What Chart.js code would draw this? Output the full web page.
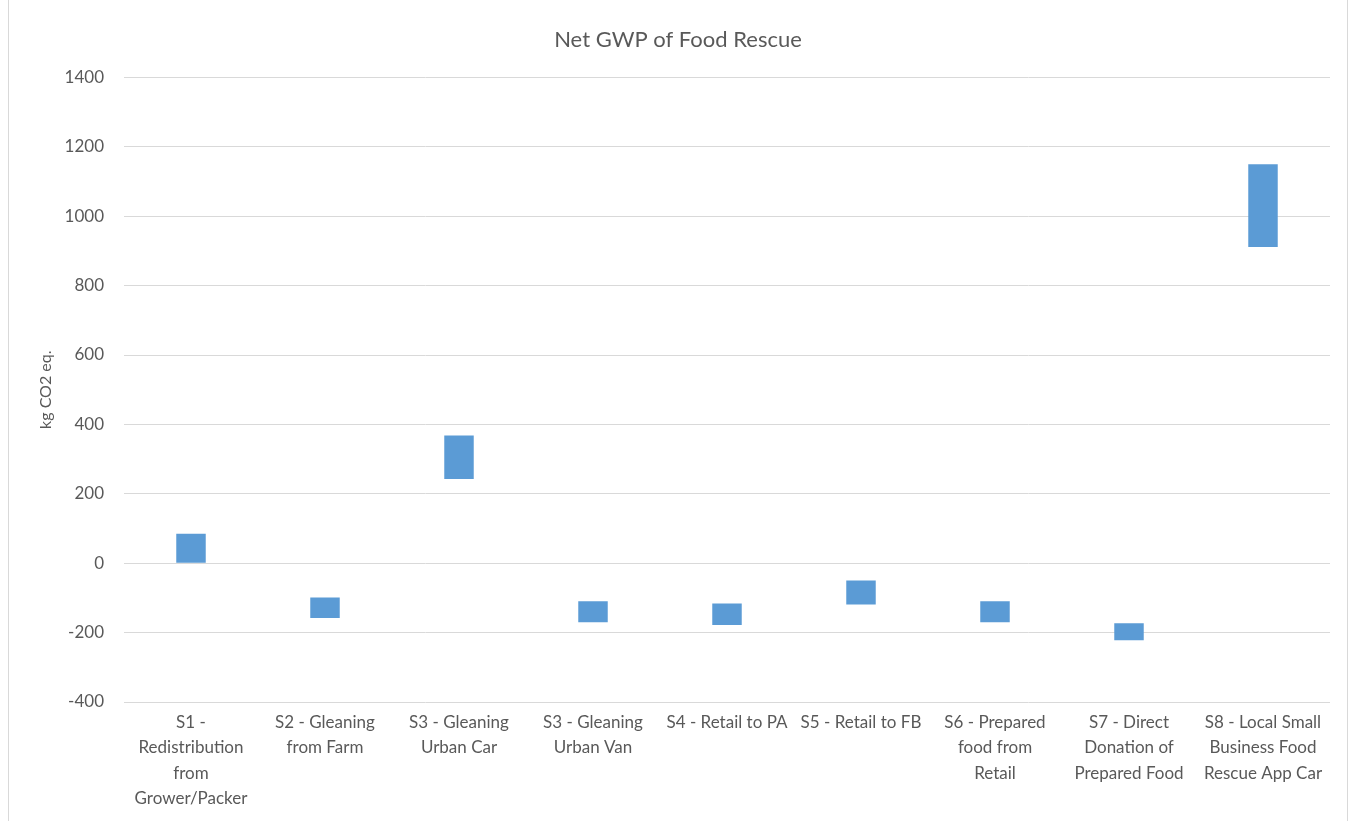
<!DOCTYPE html>
<html>
<head>
<meta charset="utf-8">
<script src="https://cdn.jsdelivr.net/npm/chart.js@4"></script>
<style>
  html, body { margin: 0; padding: 0; background: #fff; overflow: hidden; }
  #frame { position: absolute; left: 8px; top: -2px; width: 1338px; height: 830px;
           border-left: 1px solid #d9d9d9; border-right: 1px solid #d9d9d9; pointer-events: none; }
  #wrap { position: absolute; left: 0; top: 0; width: 1353px; height: 821px; }
</style>
</head>
<body>
<div id="wrap"><canvas id="gwp" width="1353" height="821"></canvas></div>
<div id="frame"></div>
<script>
// scenario names, one line per array entry
var scenarios = [
  ["S1 -", "Redistribution", "from", "Grower/Packer"],
  ["S2 - Gleaning", "from Farm"],
  ["S3 - Gleaning", "Urban Car"],
  ["S3 - Gleaning", "Urban Van"],
  ["S4 - Retail to PA"],
  ["S5 - Retail to FB"],
  ["S6 - Prepared", "food from", "Retail"],
  ["S7 - Direct", "Donation of", "Prepared Food"],
  ["S8 - Local Small", "Business Food", "Rescue App Car"]
];

// net GWP range per scenario (kg CO2 eq.)
var gwpLow  = [0, -158, 243, -170, -178, -119, -170, -222, 911];
var gwpHigh = [85, -99, 368, -110, -116, -50, -110, -173, 1150];

var yMin = -400;
var yMax = 1400;
var yStep = 200;

var ranges = gwpLow.map(function (lo, i) { return [lo, gwpHigh[i]]; });

var grey = "#595959";

new Chart(document.getElementById("gwp"), {
  type: "bar",
  data: {
    labels: scenarios,
    datasets: [
      {
        label: "Net GWP",
        data: ranges,
        backgroundColor: "#5b9bd5",
        borderWidth: 0,
        borderSkipped: false,
        barPercentage: 0.22,
        categoryPercentage: 1.0,
      },
    ],
  },
  options: {
    responsive: false,
    animation: false,
    layout: {
      padding: { left: 26, right: 23, top: 0, bottom: 0 },
    },
    plugins: {
      legend: { display: false },
      tooltip: { enabled: false },
      title: {
        display: true,
        text: "Net GWP of Food Rescue",
        color: grey,
        font: { family: "Lato", size: 22, weight: "normal" },
        padding: { top: 27, bottom: 24 },
      },
    },
    scales: {
      x: {
        grid: { display: false, drawTicks: false },
        border: { display: false },
        ticks: {
          color: grey,
          font: { family: "Lato", size: 17, lineHeight: 1.49 },
          maxRotation: 0,
          minRotation: 0,
          autoSkip: false,
          padding: 8,
        },
        afterFit: function (scale) { scale.height = 119; },
      },
      y: {
        min: yMin,
        max: yMax,
        grid: { color: "#d9d9d9", lineWidth: 1, drawTicks: false },
        border: { display: false },
        ticks: {
          stepSize: yStep,
          color: grey,
          font: { family: "Lato", size: 17 },
          padding: 20,
          callback: function (v) { return String(v); },
        },
        title: {
          display: true,
          text: "kg CO2 eq.",
          color: grey,
          font: { family: "Lato", size: 16 },
          padding: { top: 10, bottom: 4 },
        },
        afterFit: function (scale) { scale.width = 98; },
      },
    },
  },
});
</script>
</body>
</html>
